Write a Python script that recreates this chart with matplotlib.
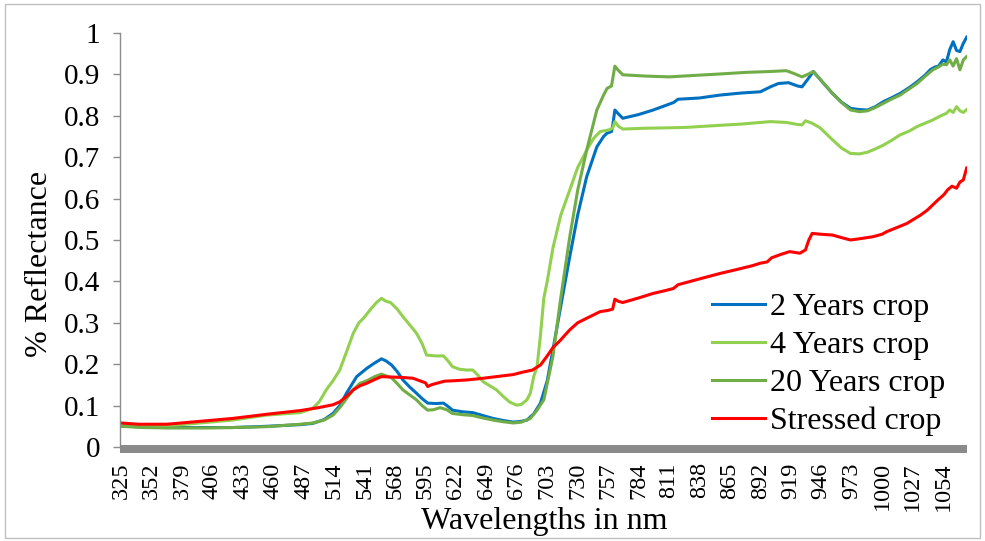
import matplotlib
matplotlib.use("Agg")
import matplotlib.pyplot as plt
from matplotlib.patches import Rectangle
from matplotlib.transforms import blended_transform_factory

plt.rcParams['font.family'] = ['Liberation Serif', 'DejaVu Serif']

# ---- spectral reflectance data (wavelength in nm, reflectance fraction) ----
wl_2yr = [325, 345, 366, 400, 424, 454, 484, 495, 505, 513, 519, 525, 534, 543, 550,
          556, 560, 565, 570, 575, 581, 587, 592, 597, 604, 611, 615, 619, 628, 637,
          646, 655, 664, 673, 680, 685, 691, 697, 703, 708, 715, 723, 730, 738, 747,
          753, 756, 760, 761, 763, 766, 770, 784, 797, 808, 815, 819, 838, 856, 875,
          892, 901, 908, 917, 925, 929, 934, 939, 946, 956, 964, 972, 980, 987, 994,
          1001, 1008, 1016, 1024, 1031, 1038, 1043, 1047, 1050, 1054, 1057, 1060, 1063,
          1066, 1069, 1072, 1075]
refl_2yr = [0.051, 0.048, 0.047, 0.047, 0.047, 0.050, 0.054, 0.057, 0.066, 0.081, 0.100,
            0.130, 0.170, 0.190, 0.203, 0.213, 0.208, 0.198, 0.182, 0.162, 0.145, 0.130,
            0.117, 0.106, 0.105, 0.106, 0.098, 0.089, 0.085, 0.083, 0.076, 0.069, 0.064,
            0.060, 0.062, 0.065, 0.080, 0.106, 0.160, 0.234, 0.340, 0.460, 0.560, 0.653,
            0.725, 0.750, 0.758, 0.762, 0.775, 0.814, 0.805, 0.794, 0.803, 0.814, 0.825,
            0.832, 0.840, 0.843, 0.850, 0.855, 0.858, 0.870, 0.878, 0.880, 0.872, 0.870,
            0.888, 0.907, 0.885, 0.854, 0.833, 0.818, 0.815, 0.814, 0.822, 0.834, 0.843,
            0.854, 0.868, 0.882, 0.898, 0.912, 0.918, 0.920, 0.935, 0.930, 0.960, 0.979,
            0.958, 0.955, 0.975, 0.990]

wl_4yr = [325, 345, 366, 395, 424, 454, 484, 495, 501, 507, 513, 519, 525, 531, 536,
          540, 547, 552, 556, 560, 564, 570, 575, 581, 587, 592, 596, 604, 611, 615,
          619, 625, 631, 637, 642, 646, 652, 658, 664, 670, 676, 680, 685, 688, 691,
          694, 697, 700, 703, 708, 715, 723, 730, 738, 744, 750, 758, 761, 763, 766,
          770, 790, 811, 826, 850, 875, 901, 915, 925, 929, 932, 938, 945, 956, 964,
          972, 980, 987, 994, 1001, 1008, 1016, 1024, 1031, 1038, 1045, 1052, 1057,
          1060, 1063, 1066, 1069, 1072, 1075]
refl_4yr = [0.052, 0.050, 0.051, 0.058, 0.065, 0.077, 0.083, 0.093, 0.110, 0.138, 0.160,
            0.186, 0.230, 0.275, 0.300, 0.311, 0.335, 0.350, 0.359, 0.352, 0.349, 0.333,
            0.315, 0.295, 0.275, 0.250, 0.222, 0.220, 0.220, 0.208, 0.194, 0.188, 0.186,
            0.186, 0.172, 0.158, 0.148, 0.138, 0.122, 0.108, 0.101, 0.103, 0.114, 0.130,
            0.170, 0.194, 0.270, 0.360, 0.400, 0.480, 0.560, 0.621, 0.675, 0.717, 0.745,
            0.762, 0.766, 0.770, 0.786, 0.775, 0.768, 0.770, 0.771, 0.772, 0.776, 0.780,
            0.786, 0.784, 0.779, 0.778, 0.788, 0.782, 0.771, 0.742, 0.722, 0.709, 0.708,
            0.712, 0.720, 0.729, 0.740, 0.754, 0.763, 0.774, 0.782, 0.790, 0.800, 0.806,
            0.814, 0.808, 0.822, 0.812, 0.808, 0.815]

wl_20yr = [325, 345, 366, 400, 424, 454, 484, 495, 505, 513, 519, 525, 531, 537, 543,
           550, 556, 560, 565, 570, 575, 581, 587, 592, 597, 602, 608, 614, 619, 628,
           637, 646, 655, 664, 673, 680, 688, 694, 700, 708, 715, 723, 730, 738, 747,
           753, 756, 760, 763, 766, 770, 790, 811, 830, 856, 880, 901, 915, 922, 929,
           934, 939, 946, 956, 964, 972, 980, 987, 994, 1001, 1008, 1016, 1024, 1031,
           1038, 1045, 1050, 1054, 1057, 1060, 1063, 1066, 1069, 1072, 1075]
refl_20yr = [0.050, 0.047, 0.046, 0.046, 0.047, 0.049, 0.055, 0.058, 0.065, 0.077, 0.095,
             0.117, 0.138, 0.154, 0.160, 0.170, 0.176, 0.172, 0.167, 0.153, 0.138, 0.126,
             0.114, 0.100, 0.089, 0.090, 0.095, 0.090, 0.081, 0.078, 0.076, 0.070, 0.065,
             0.061, 0.058, 0.060, 0.069, 0.089, 0.114, 0.218, 0.360, 0.508, 0.620, 0.717,
             0.814, 0.850, 0.866, 0.872, 0.920, 0.910, 0.899, 0.896, 0.894, 0.897, 0.901,
             0.905, 0.907, 0.909, 0.902, 0.894, 0.900, 0.907, 0.885, 0.854, 0.832, 0.814,
             0.810, 0.812, 0.820, 0.830, 0.840, 0.850, 0.865, 0.878, 0.895, 0.911, 0.918,
             0.925, 0.923, 0.935, 0.920, 0.938, 0.911, 0.935, 0.943]

wl_stress = [325, 340, 366, 395, 424, 454, 484, 500, 513, 519, 525, 531, 537, 543, 550,
             556, 565, 575, 584, 590, 595, 597, 600, 605, 612, 620, 632, 646, 661, 673,
             680, 690, 697, 703, 708, 714, 723, 730, 738, 750, 757, 761, 763, 766, 770,
             784, 797, 808, 815, 819, 838, 856, 870, 885, 892, 898, 902, 910, 918, 927,
             932, 935, 938, 945, 956, 965, 972, 980, 992, 1000, 1004, 1013, 1022, 1028,
             1034, 1040, 1045, 1050, 1055, 1058, 1062, 1066, 1069, 1072, 1075]
refl_stress = [0.058, 0.055, 0.055, 0.062, 0.069, 0.079, 0.088, 0.095, 0.102, 0.109, 0.122,
               0.138, 0.148, 0.154, 0.163, 0.170, 0.169, 0.168, 0.166, 0.160, 0.155, 0.146,
               0.150, 0.154, 0.159, 0.160, 0.162, 0.166, 0.171, 0.175, 0.180, 0.186, 0.198,
               0.220, 0.240, 0.256, 0.283, 0.300, 0.311, 0.327, 0.330, 0.333, 0.357, 0.352,
               0.349, 0.360, 0.371, 0.378, 0.383, 0.392, 0.406, 0.419, 0.428, 0.438, 0.444,
               0.447, 0.457, 0.465, 0.472, 0.468, 0.476, 0.500, 0.516, 0.514, 0.512, 0.505,
               0.500, 0.503, 0.508, 0.514, 0.520, 0.530, 0.540, 0.550, 0.560, 0.572, 0.585,
               0.598, 0.610, 0.621, 0.630, 0.625, 0.640, 0.645, 0.674]

series_names = ["2 Years crop", "4 Years crop", "20 Years crop", "Stressed crop"]
series_colors = ["#0070C0", "#92D050", "#70AD47", "#FF0000"]

x_ticks = list(range(325, 1055, 27))
y_ticks = [0, 0.1, 0.2, 0.3, 0.4, 0.5, 0.6, 0.7, 0.8, 0.9, 1]

# ---- figure ----
W, H = 985, 541
fig = plt.figure(figsize=(W / 100, H / 100), dpi=100)

x0, x1 = 324.5, 1075.5
px_per_nm = 822 / 729
left_px = 121 - 0.5 * px_per_nm
width_px = (x1 - x0) * px_per_nm
ax = fig.add_axes([left_px / W, 1 - 447 / H, width_px / W, 414 / H])

data = [(wl_2yr, refl_2yr), (wl_4yr, refl_4yr), (wl_20yr, refl_20yr), (wl_stress, refl_stress)]
for (wl, rf), name, col in zip(data, series_names, series_colors):
    ax.plot(wl, rf, color=col, lw=2.2, label=name, solid_joinstyle='round')

ax.set_xlim(x0, x1)
ax.set_ylim(0, 1)

ax.set_yticks(y_ticks)
ax.set_yticklabels([("%g" % v) for v in y_ticks])
ax.set_xticks(x_ticks)
ax.set_xticklabels([str(v) for v in x_ticks], rotation=90)

axis_grey = "#8c8c8c"
ax.tick_params(axis='y', direction='out', length=5, width=1, color=axis_grey,
               pad=9.4, labelsize=21)
ax.tick_params(axis='x', length=0, pad=11, labelsize=17.5)
for s in ('top', 'right', 'bottom'):
    ax.spines[s].set_visible(False)
ax.spines['left'].set_color(axis_grey)
ax.spines['left'].set_linewidth(1)

# dense category ticks form a grey band along the horizontal axis
trans = blended_transform_factory(ax.transData, ax.transAxes)
ax.add_patch(Rectangle((x0, -6 / 414), x1 - x0, 8 / 414, transform=trans,
                       facecolor="#8a8a8a", edgecolor='none', clip_on=False, zorder=5))

fig.text(544 / W, 1 - 529 / H, "Wavelengths in nm", ha='center', va='baseline', fontsize=23)
fig.text(40 / W, 1 - 264 / H, "% Reflectance", ha='center', va='center',
         rotation=90, fontsize=23)

ax.legend(loc='center left', bbox_to_anchor=(712 / W, 1 - 364.5 / H),
          bbox_transform=fig.transFigure, frameon=False, fontsize=23,
          handlelength=1.66, handletextpad=0.16, labelspacing=0.27,
          borderpad=0, borderaxespad=0)

# chart frame
fig.patches.append(Rectangle((5 / W, 1 - 538 / H), 975 / W, 534 / H,
                             transform=fig.transFigure, fill=False,
                             edgecolor="#bfbfbf", lw=1))

fig.savefig("out.png", dpi=100)
